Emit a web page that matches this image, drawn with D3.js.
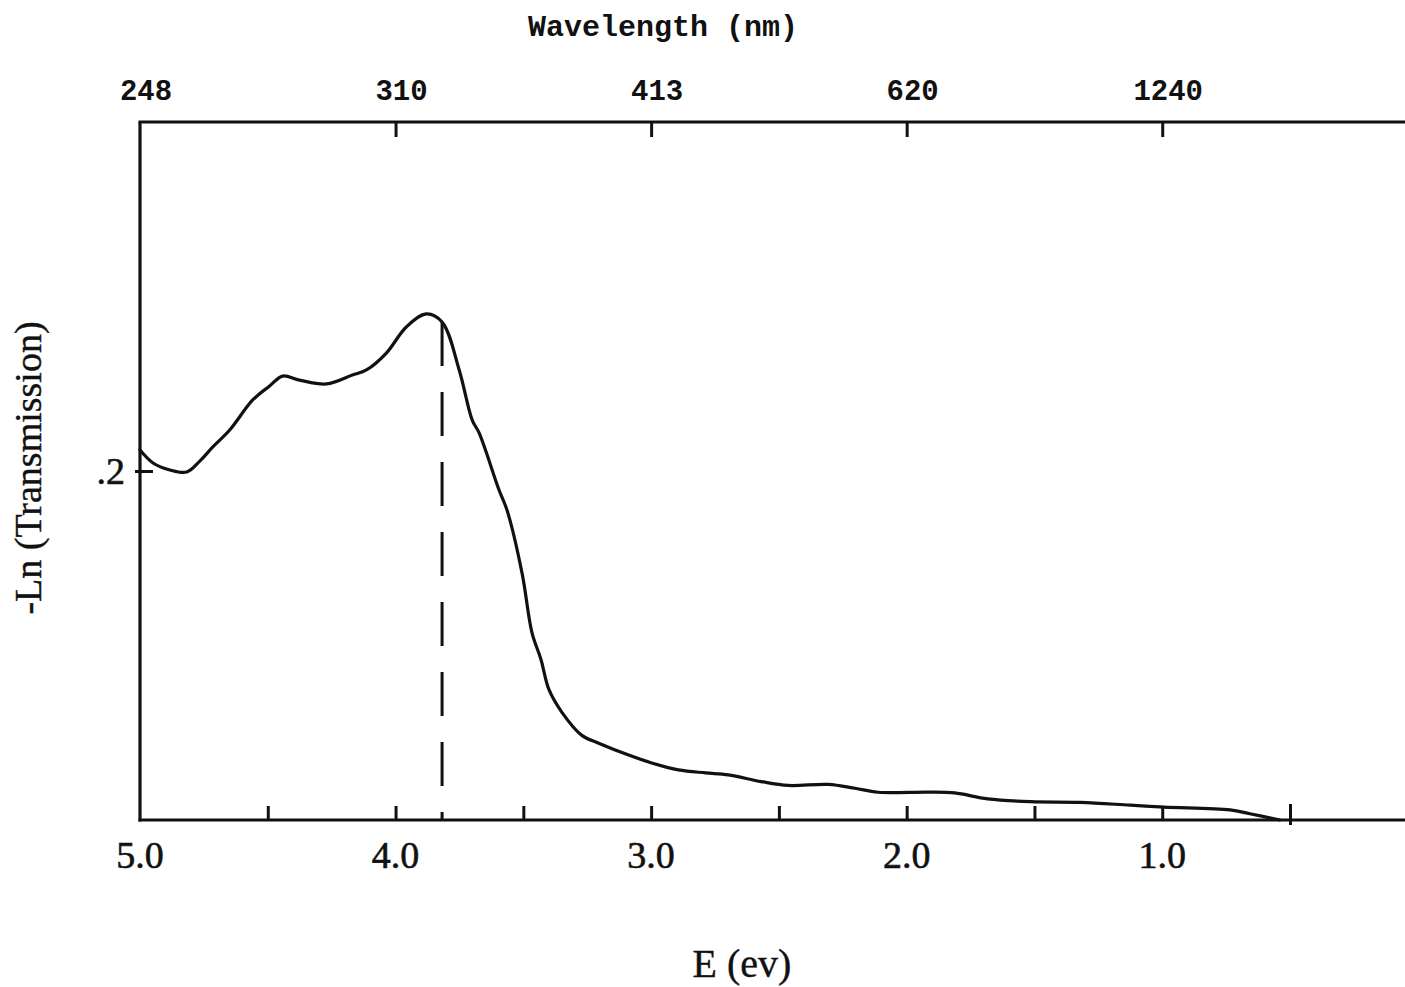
<!DOCTYPE html>
<html>
<head>
<meta charset="utf-8">
<script src="https://cdn.jsdelivr.net/npm/d3@7"></script>
<style>
  html, body { margin: 0; padding: 0; background: #fff; }
  svg { display: block; }
</style>
</head>
<body>
<script>
// ---- data ----
const energyEV = [5.000, 4.949, 4.883, 4.817, 4.766, 4.715, 4.649, 4.559, 4.493, 4.442,
  4.376, 4.270, 4.169, 4.114, 4.036, 3.958, 3.880, 3.818, 3.751, 3.700,
  3.673, 3.595, 3.564, 3.505, 3.466, 3.431, 3.400, 3.349, 3.271, 3.205,
  3.088, 2.998, 2.893, 2.787, 2.698, 2.569, 2.463, 2.307, 2.202, 2.112,
  1.917, 1.812, 1.683, 1.515, 1.320, 1.125, 0.992, 0.735, 0.657, 0.540];
const negLnT = [0.2120, 0.2046, 0.2006, 0.1994, 0.2057, 0.2138, 0.2235, 0.2407, 0.2487, 0.2544,
  0.2521, 0.2499, 0.2550, 0.2579, 0.2676, 0.2825, 0.2900, 0.2854, 0.2579, 0.2292,
  0.2218, 0.1891, 0.1777, 0.1415, 0.1072, 0.0920, 0.0748, 0.0617, 0.0485, 0.0440,
  0.0372, 0.0327, 0.0287, 0.0270, 0.0259, 0.0220, 0.0198, 0.0204, 0.0182, 0.0159,
  0.0160, 0.0155, 0.0121, 0.0105, 0.0101, 0.0085, 0.0074, 0.0058, 0.0036, 0.0000];
const edgeEnergy = 3.818;               // dashed marker
const bottomMinorTicks = [4.5, 4.0, 3.5, 3.0, 2.5, 2.0, 1.5, 1.0];
const bottomLabelValues = [5.0, 4.0, 3.0, 2.0, 1.0];
const bottomLabels = ["5.0", "4.0", "3.0", "2.0", "1.0"];
const crossTick = [0.5];
const topTickValues = [4.0, 3.0, 2.0, 1.0];
const topLabelValues = [5.0, 4.0, 3.0, 2.0, 1.0];
const wavelengthLabels = ["248", "310", "413", "620", "1240"];
const yTickValues = [0.2];
const yTickLabels = [".2"];

// ---- layout ----
const W = 1405, H = 987;
const svg = d3.select("body").append("svg").attr("width", W).attr("height", H);

const x = d3.scaleLinear().domain([5.0, 0.5]).range([140, 1290]);
const y = d3.scaleLinear().domain([0, 0.4]).range([820, 122]);
const xRight = W;
const ink = "#111";
const serif = "'Liberation Serif', 'Times New Roman', serif";
const mono = "'Liberation Mono', 'Courier New', monospace";

// frame lines
svg.append("line").attr("x1", x(5)).attr("x2", x(5)).attr("y1", y(0.4)).attr("y2", y(0) + 1.5)
  .attr("stroke", ink).attr("stroke-width", 3.2);
svg.append("line").attr("x1", x(5) - 1.5).attr("x2", xRight).attr("y1", y(0)).attr("y2", y(0))
  .attr("stroke", ink).attr("stroke-width", 3);
svg.append("line").attr("x1", x(5) - 1.5).attr("x2", xRight).attr("y1", y(0.4)).attr("y2", y(0.4))
  .attr("stroke", ink).attr("stroke-width", 3);

// bottom axis ticks (inward)
const gB = svg.append("g").attr("transform", `translate(0,${y(0)})`)
  .call(d3.axisBottom(x).tickValues(bottomMinorTicks).tickSize(-14).tickFormat(""));
gB.select(".domain").remove();
gB.selectAll(".tick line").attr("stroke", ink).attr("stroke-width", 3);

// crossing tick at 0.5 eV
const gC = svg.append("g").attr("transform", `translate(0,${y(0) + 5})`)
  .call(d3.axisBottom(x).tickValues(crossTick).tickSize(-21).tickFormat(""));
gC.select(".domain").remove();
gC.selectAll(".tick line").attr("stroke", ink).attr("stroke-width", 3);

// bottom labels
svg.append("g").selectAll("text").data(bottomLabelValues).join("text")
  .attr("x", d => x(d)).attr("y", 868)
  .attr("text-anchor", "middle")
  .attr("font-family", serif)
  .attr("font-size", 38).attr("fill", ink)
  .attr("stroke", ink).attr("stroke-width", 0.6)
  .text((d, i) => bottomLabels[i]);

// top axis ticks (inward)
const gT = svg.append("g").attr("transform", `translate(0,${y(0.4)})`)
  .call(d3.axisTop(x).tickValues(topTickValues).tickSize(-15).tickFormat(""));
gT.select(".domain").remove();
gT.selectAll(".tick line").attr("stroke", ink).attr("stroke-width", 3);

// top wavelength labels
svg.append("g").selectAll("text").data(topLabelValues).join("text")
  .attr("x", d => x(d) + 6).attr("y", 100)
  .attr("text-anchor", "middle")
  .attr("font-family", mono)
  .attr("font-weight", "bold")
  .attr("font-size", 29).attr("fill", ink)
  .text((d, i) => wavelengthLabels[i]);

svg.append("text").attr("x", 663).attr("y", 36).attr("text-anchor", "middle")
  .attr("font-family", mono)
  .attr("font-weight", "bold").attr("font-size", 30).attr("fill", ink)
  .text("Wavelength (nm)");

// left axis tick (crossing)
const gL = svg.append("g").attr("transform", `translate(${x(5) - 5},0)`)
  .call(d3.axisLeft(y).tickValues(yTickValues).tickSize(-18).tickFormat(""));
gL.select(".domain").remove();
gL.selectAll(".tick line").attr("stroke", ink).attr("stroke-width", 3);

svg.append("g").selectAll("text").data(yTickValues).join("text")
  .attr("x", 125).attr("y", d => y(d) + 13)
  .attr("text-anchor", "end")
  .attr("font-family", serif)
  .attr("font-size", 38).attr("fill", ink)
  .attr("stroke", ink).attr("stroke-width", 0.6)
  .text((d, i) => yTickLabels[i]);

// axis titles
svg.append("text").attr("x", 742).attr("y", 977).attr("text-anchor", "middle")
  .attr("font-family", serif)
  .attr("font-size", 40).attr("fill", ink)
  .attr("stroke", ink).attr("stroke-width", 0.4)
  .text("E (ev)");

svg.append("text").attr("transform", "translate(41,468) rotate(-90)")
  .attr("text-anchor", "middle")
  .attr("font-family", serif)
  .attr("font-size", 38).attr("fill", ink)
  .attr("stroke", ink).attr("stroke-width", 0.4)
  .text("-Ln (Transmission)");

// dashed edge marker
const edgeIdx = energyEV.indexOf(edgeEnergy);
svg.append("line")
  .attr("x1", x(edgeEnergy)).attr("x2", x(edgeEnergy))
  .attr("y1", y(negLnT[edgeIdx])).attr("y2", y(0))
  .attr("stroke", ink).attr("stroke-width", 3)
  .attr("stroke-dasharray", "44,26");

// spectrum curve
const pts = energyEV.map((e, i) => [e, negLnT[i]]);
const line = d3.line().x(d => x(d[0])).y(d => y(d[1])).curve(d3.curveCatmullRom.alpha(0.5));
svg.append("path").datum(pts).attr("d", line)
  .attr("fill", "none").attr("stroke", ink).attr("stroke-width", 3.2)
  .attr("stroke-linejoin", "round").attr("stroke-linecap", "round");
</script>
</body>
</html>
